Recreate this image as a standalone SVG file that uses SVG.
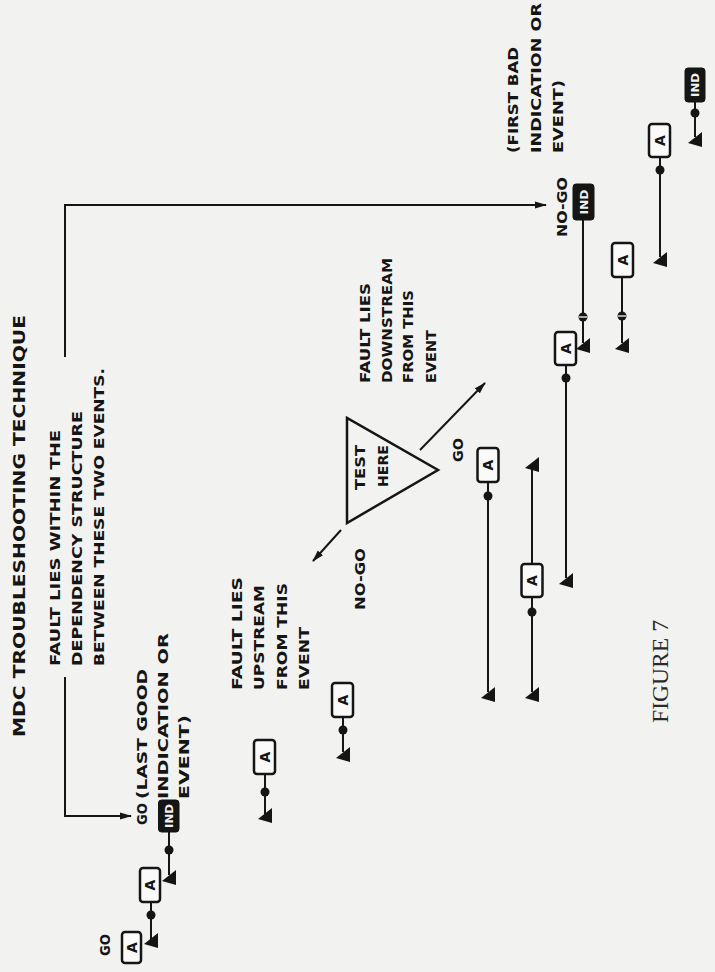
<svg xmlns="http://www.w3.org/2000/svg" xmlns:xlink="http://www.w3.org/1999/xlink" width="715" height="972" viewBox="0 0 715 972">
<style>
.t{font-family:"DejaVu Sans","Liberation Sans",sans-serif;font-weight:bold;font-size:14px;fill:#151515}
.ttl{font-size:16px}
.fig{font-family:"Liberation Serif","DejaVu Serif",serif;font-weight:normal;font-size:24px;fill:#2a2a2a}
.box{fill:#fafafa;stroke:#151515;stroke-width:2.5}
.ind{fill:#151515;stroke:#151515;stroke-width:1}
.indt{font-family:"DejaVu Sans","Liberation Sans",sans-serif;font-weight:bold;font-size:10.5px;fill:#f2f2f2}
.ln{fill:none;stroke:#151515;stroke-width:2}
.chain{fill:none;stroke:#151515;stroke-width:2}
.dot{fill:#151515}
.tri{fill:#151515}
.slash{stroke:#e8e8e8;stroke-width:1.4}
.tst{fill:none;stroke:#151515;stroke-width:2.5;stroke-linejoin:miter}
</style>
<defs>
<marker id="ah" markerWidth="12" markerHeight="8" refX="11" refY="4" orient="auto" markerUnits="userSpaceOnUse"><path d="M0,0.5 L12,4 L0,7.5 Z" fill="#151515"/></marker>
<path id="trg" d="M7,0 L7,15 L-7,11 Z"/>
</defs>
<rect width="715" height="972" fill="#f2f2f0"/>

<g id="labels">
<text class="t ttl" transform="translate(25,737) rotate(-90)" textLength="422" lengthAdjust="spacingAndGlyphs">MDC TROUBLESHOOTING TECHNIQUE</text>
<text class="t" transform="translate(60,666) rotate(-90)" textLength="236" lengthAdjust="spacingAndGlyphs">FAULT LIES WITHIN THE</text>
<text class="t" transform="translate(82,666) rotate(-90)" textLength="255" lengthAdjust="spacingAndGlyphs">DEPENDENCY STRUCTURE</text>
<text class="t" transform="translate(104,666) rotate(-90)" textLength="298" lengthAdjust="spacingAndGlyphs">BETWEEN THESE TWO EVENTS.</text>
<text class="t" transform="translate(147,825) rotate(-90)" textLength="22" lengthAdjust="spacingAndGlyphs">GO</text>
<text class="t" transform="translate(147,799) rotate(-90)" textLength="130" lengthAdjust="spacingAndGlyphs">(LAST GOOD</text>
<text class="t" transform="translate(168,799) rotate(-90)" textLength="166" lengthAdjust="spacingAndGlyphs">INDICATION OR</text>
<text class="t" transform="translate(189,799) rotate(-90)" textLength="84" lengthAdjust="spacingAndGlyphs">EVENT)</text>
<text class="t" transform="translate(110,956) rotate(-90)" textLength="22" lengthAdjust="spacingAndGlyphs">GO</text>
<text class="t" transform="translate(242,690) rotate(-90)" textLength="113" lengthAdjust="spacingAndGlyphs">FAULT LIES</text>
<text class="t" transform="translate(264,690) rotate(-90)" textLength="105" lengthAdjust="spacingAndGlyphs">UPSTREAM</text>
<text class="t" transform="translate(287,690) rotate(-90)" textLength="107" lengthAdjust="spacingAndGlyphs">FROM THIS</text>
<text class="t" transform="translate(309,690) rotate(-90)" textLength="63" lengthAdjust="spacingAndGlyphs">EVENT</text>
<text class="t" transform="translate(365,610) rotate(-90)" textLength="62" lengthAdjust="spacingAndGlyphs">NO-GO</text>
<text class="t" transform="translate(463,462) rotate(-90)" textLength="24" lengthAdjust="spacingAndGlyphs">GO</text>
<text class="t" transform="translate(370,383) rotate(-90)" textLength="100" lengthAdjust="spacingAndGlyphs">FAULT LIES</text>
<text class="t" transform="translate(392,383) rotate(-90)" textLength="125" lengthAdjust="spacingAndGlyphs">DOWNSTREAM</text>
<text class="t" transform="translate(413,383) rotate(-90)" textLength="93" lengthAdjust="spacingAndGlyphs">FROM THIS</text>
<text class="t" transform="translate(436,383) rotate(-90)" textLength="53" lengthAdjust="spacingAndGlyphs">EVENT</text>
<text class="t" transform="translate(567,237) rotate(-90)" textLength="60" lengthAdjust="spacingAndGlyphs">NO-GO</text>
<text class="t" transform="translate(518,153) rotate(-90)" textLength="106" lengthAdjust="spacingAndGlyphs">(FIRST BAD</text>
<text class="t" transform="translate(541,153) rotate(-90)" textLength="150" lengthAdjust="spacingAndGlyphs">INDICATION OR</text>
<text class="t" transform="translate(563,153) rotate(-90)" textLength="73" lengthAdjust="spacingAndGlyphs">EVENT)</text>
<text class="fig" transform="translate(668,723) rotate(-90)" textLength="103" lengthAdjust="spacingAndGlyphs">FIGURE 7</text>
</g>

<g id="connectors">
<path class="ln" d="M65,357 L65,205 L546,205" marker-end="url(#ah)"/>
<path class="ln" d="M65,677 L65,816 L131,816" marker-end="url(#ah)"/>
<path class="ln" d="M341,530 L313,561" marker-end="url(#ah)"/>
<path class="ln" d="M420,450 L485,383" marker-end="url(#ah)"/>
<path class="chain" d="M169,832 V875"/>
<path class="chain" d="M151,902 V940"/>
<path class="chain" d="M265,775 V815"/>
<path class="chain" d="M343,717 V752"/>
<path class="chain" d="M488,482 V692"/>
<path class="chain" d="M532,465 V564 M532,597 V692"/>
<path class="chain" d="M566,365 V578"/>
<path class="chain" d="M583,220 V343"/>
<path class="chain" d="M622,277 V343"/>
<path class="chain" d="M660,157 V257"/>
<path class="chain" d="M695,102 V137"/>
</g>

<g id="junctions">
<circle class="dot" cx="169" cy="850" r="4.5"/>
<circle class="dot" cx="151" cy="915" r="4.5"/>
<circle class="dot" cx="265" cy="792" r="4.5"/>
<circle class="dot" cx="343" cy="730" r="4.5"/>
<circle class="dot" cx="488" cy="496" r="4.5"/>
<circle class="dot" cx="532" cy="612" r="4.5"/>
<circle class="dot" cx="566" cy="378" r="4.5"/>
<circle class="dot" cx="583" cy="317" r="4.5"/><line class="slash" x1="579" y1="317" x2="587" y2="317"/>
<circle class="dot" cx="622" cy="316" r="4.5"/><line class="slash" x1="618" y1="316" x2="626" y2="316"/>
<circle class="dot" cx="660" cy="170" r="4.5"/>
<circle class="dot" cx="695" cy="113" r="4.5"/>
</g>

<g id="inputs">
<use class="tri" href="#trg" x="169" y="870"/>
<use class="tri" href="#trg" x="151" y="933"/>
<use class="tri" href="#trg" x="265" y="808"/>
<use class="tri" href="#trg" x="343" y="747"/>
<use class="tri" href="#trg" x="488" y="687"/>
<use class="tri" href="#trg" x="532" y="457"/>
<use class="tri" href="#trg" x="532" y="687"/>
<use class="tri" href="#trg" x="566" y="573"/>
<use class="tri" href="#trg" x="583" y="338"/>
<use class="tri" href="#trg" x="622" y="338"/>
<use class="tri" href="#trg" x="660" y="252"/>
<use class="tri" href="#trg" x="695" y="132"/>
</g>

<g id="test-here">
<polygon class="tst" points="347,418 347,523 438,470"/>
<text class="t" transform="translate(365,490) rotate(-90)" textLength="45" lengthAdjust="spacingAndGlyphs">TEST</text>
<text class="t" transform="translate(388,487) rotate(-90)" textLength="42" lengthAdjust="spacingAndGlyphs">HERE</text>
</g>

<g id="ind-last-good">
<rect class="ind" x="158.5" y="800" width="20.5" height="32" rx="3"/>
<text class="indt" transform="translate(172.5,816) rotate(-90)" text-anchor="middle" textLength="24" lengthAdjust="spacingAndGlyphs">IND</text>
</g>
<g id="a-l1">
<rect class="box" x="140" y="868" width="20" height="34" rx="3"/>
<text class="t" transform="translate(155,885) rotate(-90)" text-anchor="middle">A</text>
</g>
<g id="a-l0">
<rect class="box" x="122" y="932" width="19" height="31" rx="3"/>
<text class="t" transform="translate(136.5,947.5) rotate(-90)" text-anchor="middle">A</text>
</g>
<g id="a-u1">
<rect class="box" x="254" y="740" width="21" height="34" rx="3"/>
<text class="t" transform="translate(269.5,757) rotate(-90)" text-anchor="middle">A</text>
</g>
<g id="a-u2">
<rect class="box" x="332" y="683" width="21" height="34" rx="3"/>
<text class="t" transform="translate(347.5,700) rotate(-90)" text-anchor="middle">A</text>
</g>
<g id="a-m1">
<rect class="box" x="477.5" y="448" width="21" height="34" rx="3"/>
<text class="t" transform="translate(493,465) rotate(-90)" text-anchor="middle">A</text>
</g>
<g id="a-m2">
<rect class="box" x="521.5" y="564" width="21" height="33" rx="3"/>
<text class="t" transform="translate(537,580.5) rotate(-90)" text-anchor="middle">A</text>
</g>
<g id="a-m3">
<rect class="box" x="555" y="332" width="21" height="33" rx="3"/>
<text class="t" transform="translate(570.5,348.5) rotate(-90)" text-anchor="middle">A</text>
</g>
<g id="ind-first-bad">
<rect class="ind" x="573" y="184" width="21" height="36" rx="3"/>
<text class="indt" transform="translate(587.5,202) rotate(-90)" text-anchor="middle" textLength="25" lengthAdjust="spacingAndGlyphs">IND</text>
</g>
<g id="a-r1">
<rect class="box" x="612" y="243" width="21" height="34" rx="3"/>
<text class="t" transform="translate(627.5,260) rotate(-90)" text-anchor="middle">A</text>
</g>
<g id="a-r2">
<rect class="box" x="649" y="124" width="21" height="33" rx="3"/>
<text class="t" transform="translate(664.5,140.5) rotate(-90)" text-anchor="middle">A</text>
</g>
<g id="ind-r">
<rect class="ind" x="685" y="68" width="20" height="34" rx="3"/>
<text class="indt" transform="translate(699,85) rotate(-90)" text-anchor="middle" textLength="24" lengthAdjust="spacingAndGlyphs">IND</text>
</g>
</svg>
